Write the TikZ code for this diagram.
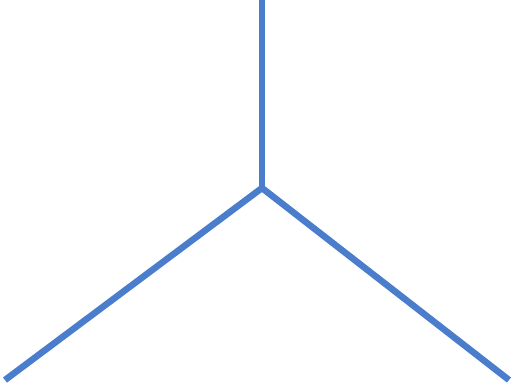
\documentclass[tikz,border=0pt]{standalone}
\usepackage{tikz}
\definecolor{branchblue}{RGB}{74,125,204}
\tikzset{branch/.style={draw=branchblue, line width=6.5pt}}
\begin{document}
\begin{tikzpicture}[x=1pt,y=-1pt]
    \useasboundingbox (0,0) rectangle (513,386);
    \coordinate (centre) at (262,188);
    \coordinate (top) at (262,0);
    \coordinate (left) at (5,380);
    \coordinate (right) at (509,380);

    \draw[branch] (top) -- (centre);
    \draw[branch] (centre) -- (left);
    \draw[branch] (centre) -- (right);
\end{tikzpicture}
\end{document}
